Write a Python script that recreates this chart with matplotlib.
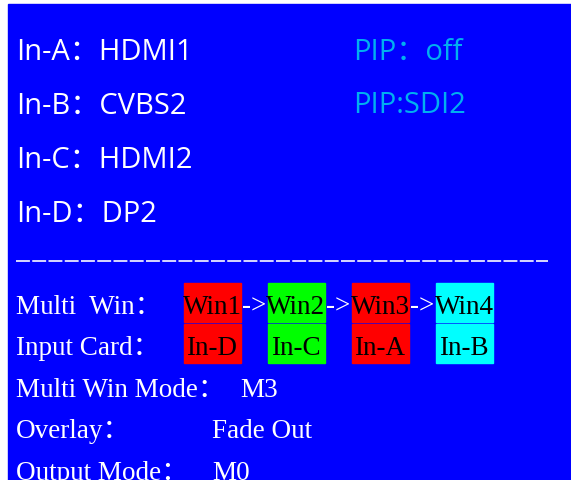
import matplotlib.pyplot as plt
from matplotlib.patches import Rectangle

# screen content
inputs = ['In-A', 'In-B', 'In-C', 'In-D']
sources = ['HDMI1', 'CVBS2', 'HDMI2', 'DP2']
pip_lines = ['PIP：off', 'PIP:SDI2']
windows = ['Win1', 'Win2', 'Win3', 'Win4']
win_cards = ['In-D', 'In-C', 'In-A', 'In-B']
win_colors = ['#ff0000', '#00ff00', '#ff0000', '#00ffff']
row_labels = ['Multi  Win：', 'Input Card：']
info_labels = ['Multi Win Mode：', 'Overlay：', 'Output Mode：']
info_values = ['M3', 'Fade Out', 'M0']

W, H = 571, 481
fig = plt.figure(figsize=(W / 100, H / 100), dpi=100)
fig.patch.set_facecolor('white')
ax = fig.add_axes([0, 0, 1, 1])
ax.set_xlim(0, W)
ax.set_ylim(H, 0)
ax.axis('off')

# blue screen
ax.add_patch(Rectangle((8, 5), W - 8, H - 5, color='#0000ff', zorder=0))

sans = ['Open Sans', 'Noto Sans CJK SC']
serif = ['Liberation Serif', 'Noto Sans CJK SC']
FS = 19.5
cell = 14  # width of one half-width character cell on the OSD

# top block: inputs
for i, (name, src) in enumerate(zip(inputs, sources)):
    ax.text(16, 60 + 54 * i, name + '：' + src, color='white', fontsize=21,
            family=sans, va='baseline', ha='left')

for i, s in enumerate(pip_lines):
    ax.text(353, 60 + 53 * i, s, color='#00b0f0', fontsize=21,
            family=sans, va='baseline', ha='left')

# separator
ax.plot([16, 548], [262, 262], color='#e8e8ff', lw=1.3, dashes=(7.7, 1.3))

# window / card rows
x0 = 16 + 12 * cell
ax.text(16, 314, row_labels[0], color='white', fontsize=FS, family=serif,
        va='baseline')
ax.text(16, 355, row_labels[1], color='white', fontsize=FS, family=serif,
        va='baseline')
for i, (w, c, col) in enumerate(zip(windows, win_cards, win_colors)):
    bx = x0 + 6 * cell * i
    ax.add_patch(Rectangle((bx, 284), 4 * cell + 0.5, 38.5, color=col, zorder=1))
    ax.add_patch(Rectangle((bx, 325), 4 * cell + 0.5, 38.5, color=col, zorder=1))
    ax.text(bx + 2 * cell, 314, w, color='black', fontsize=FS, family=serif,
            va='baseline', ha='center', zorder=2)
    ax.text(bx + 2 * cell, 355, c, color='black', fontsize=FS, family=serif,
            va='baseline', ha='center', zorder=2)
    if i < len(windows) - 1:
        ax.text(bx + 5 * cell, 314, '->', color='white', fontsize=FS,
                family=serif, va='baseline', ha='center')

# info rows
value_cols = [16, 14, 14]
for i, (lab, val) in enumerate(zip(info_labels, info_values)):
    y = 397 + 41.5 * i
    ax.text(16, y, lab, color='white', fontsize=FS, family=serif, va='baseline')
    ax.text(16 + value_cols[i] * cell, y, val, color='white', fontsize=FS,
            family=serif, va='baseline')

fig.savefig('out.png', dpi=100, facecolor='white')
